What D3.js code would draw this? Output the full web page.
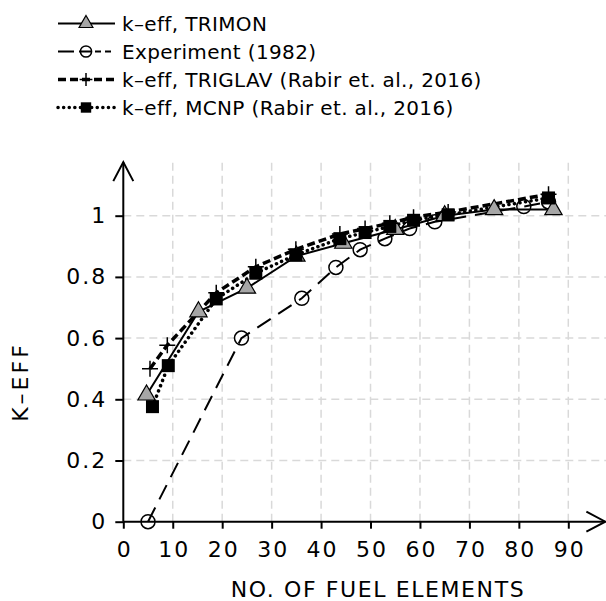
<!DOCTYPE html>
<meta charset="utf-8">
<body style="margin:0">
<div id="chart"></div>
<style>
body { background: #fff; }
text { font-family: 'DejaVu Sans', sans-serif; fill: #000; }
.grid line { stroke: #d9d9d9; stroke-width: 1.5px; stroke-dasharray: 8,5; }
</style>
<script src="https://d3js.org/d3.v7.min.js"></script>
<script>
const width = 606, height = 601;

// data
const trimonX = [4.7, 15.2, 25, 35, 44.5, 55, 65, 75, 87];
const trimonY = [0.414, 0.686, 0.763, 0.868, 0.91, 0.955, 1.0, 1.02, 1.02];
const exprX = [5, 23.9, 36.1, 43, 47.9, 52.9, 57.9, 63, 81, 86];
const exprY = [0, 0.6, 0.73, 0.831, 0.889, 0.925, 0.958, 0.98, 1.03, 1.045];
const triglavX = [5.4, 8.9, 18.8, 26.8, 34.9, 43.8, 48.9, 53.9, 58.7, 65.7, 86];
const triglavY = [0.5, 0.577, 0.748, 0.833, 0.89, 0.94, 0.958, 0.975, 0.995, 1.012, 1.07];
const mcnpX = [5.9, 9.1, 18.8, 26.8, 34.9, 43.8, 48.9, 53.9, 58.7, 65.7, 86];
const mcnpY = [0.376, 0.51, 0.728, 0.812, 0.872, 0.925, 0.945, 0.965, 0.985, 1.003, 1.058];

const xTicks = [0, 10, 20, 30, 40, 50, 60, 70, 80, 90];
const yTicks = [0, 0.2, 0.4, 0.6, 0.8, 1];
const legendLabels = ["k\u2013eff, TRIMON", "Experiment (1982)",
	"k\u2013eff, TRIGLAV (Rabir et. al., 2016)", "k\u2013eff, MCNP (Rabir et. al., 2016)"];

const x = d3.scaleLinear().domain([0, 90]).range([123.3, 568.3]);
const y = d3.scaleLinear().domain([0, 1]).range([521.7, 215.7]);
const yTop = 1.175, xEnd = 97.5;

const svg = d3.select('#chart').append("svg")
	.attr("width", width)
	.attr("height", height);

// grid
const grid = svg.append("g").attr("class", "grid");
grid.selectAll(".gx").data(xTicks.slice(1)).enter().append("line")
	.attr("x1", d => x(d)).attr("x2", d => x(d))
	.attr("y1", y(0)).attr("y2", y(yTop));
grid.selectAll(".gy").data(yTicks.slice(1)).enter().append("line")
	.attr("x1", x(0)).attr("x2", width)
	.attr("y1", d => y(d)).attr("y2", d => y(d));

// axes
const xAxis = svg.append("g")
	.attr("transform", "translate(0," + y(0) + ")")
	.call(d3.axisBottom(x).tickValues(xTicks).tickSize(7).tickPadding(12).tickFormat(d3.format("d")));
const yAxis = svg.append("g")
	.attr("transform", "translate(" + x(0) + ",0)")
	.call(d3.axisLeft(y).tickValues(yTicks).tickSize(8).tickPadding(10).tickFormat(d => d === 0 ? "0" : d === 1 ? "1" : d3.format(".1f")(d)));
[xAxis, yAxis].forEach(a => {
	a.select(".domain").remove();
	a.selectAll("line").attr("stroke", "#000").attr("stroke-width", 2);
	a.selectAll("text").style("font-size", "22px").style("letter-spacing", "2px")
		.style("font-family", "'DejaVu Sans', sans-serif").attr("fill", "#000");
});
xAxis.selectAll("text").attr("dy", "0.75em").attr("dx", "1px");
yAxis.selectAll("text").attr("dx", "2px");

// axis lines with open arrows
const ax = svg.append("g").attr("stroke", "#000").attr("stroke-width", 2).attr("fill", "none");
ax.append("line").attr("x1", x(0)).attr("x2", x(0)).attr("y1", y(0)).attr("y2", y(yTop));
ax.append("path").attr("d", "M" + (x(0) - 10) + "," + (y(yTop) + 19) + "L" + x(0) + "," + y(yTop) + "L" + (x(0) + 10) + "," + (y(yTop) + 19));
ax.append("line").attr("x1", x(0)).attr("x2", x(xEnd)).attr("y1", y(0)).attr("y2", y(0));
ax.append("path").attr("d", "M" + (x(xEnd) - 19) + "," + (y(0) - 10) + "L" + x(xEnd) + "," + y(0) + "L" + (x(xEnd) - 19) + "," + (y(0) + 10));

// axis titles
svg.append("text").attr("x", 378).attr("y", 597).attr("text-anchor", "middle")
	.style("font-size", "22px").style("letter-spacing", "1.6px").text("NO. OF FUEL ELEMENTS");
svg.append("text").attr("transform", "translate(28,382) rotate(-90)").attr("text-anchor", "middle")
	.style("font-size", "22px").style("letter-spacing", "3px").text("K\u2013EFF");

const line = d3.line().x(d => x(d[0])).y(d => y(d[1]));
const zip = (a, b) => a.map((v, i) => [v, b[i]]);

const series = [
	{ pts: zip(exprX, exprY), dash: "16,9", w: 2, marker: "circle" },
	{ pts: zip(trimonX, trimonY), dash: null, w: 2, marker: "triangle" },
	{ pts: zip(triglavX, triglavY), dash: "8,4", w: 3.5, marker: "plus" },
	{ pts: zip(mcnpX, mcnpY), dash: "0.1,5.5", w: 3.5, marker: "square", cap: "round" }
];

function drawMarker(g, type, cx, cy, k) {
	k = k || 1;
	if (type === "circle") {
		g.append("circle").attr("cx", cx).attr("cy", cy).attr("r", 7 * k)
			.attr("fill", "none").attr("stroke", "#000").attr("stroke-width", 1.5);
	} else if (type === "triangle") {
		g.append("path").attr("d", d3.symbol(d3.symbolTriangle, 130 * k * k)())
			.attr("transform", "translate(" + cx + "," + cy + ")")
			.attr("fill", "#a6a6a6").attr("stroke", "#000").attr("stroke-width", 1.2);
	} else if (type === "plus") {
		const r = 8 * k;
		g.append("path").attr("d", "M" + (cx - r) + "," + cy + "H" + (cx + r) + "M" + cx + "," + (cy - r) + "V" + (cy + r))
			.attr("stroke", "#000").attr("stroke-width", 1.5);
	} else {
		const r = 6.5 * k;
		g.append("rect").attr("x", cx - r).attr("y", cy - r).attr("width", 2 * r).attr("height", 2 * r)
			.attr("fill", "#000");
	}
}

series.forEach(s => {
	svg.append("path").datum(s.pts).attr("d", line)
		.attr("fill", "none").attr("stroke", "#000").attr("stroke-width", s.w)
		.attr("stroke-dasharray", s.dash).attr("stroke-linecap", s.cap || "butt");
});
series.forEach(s => {
	const g = svg.append("g");
	s.pts.forEach(p => drawMarker(g, s.marker, x(p[0]), y(p[1])));
});

// legend
const legendOrder = [1, 0, 2, 3];
const lg = svg.append("g");
legendOrder.forEach((si, i) => {
	const s = series[si];
	const ly = 23.5 + i * 28;
	lg.append("line").attr("x1", 58).attr("x2", 115).attr("y1", ly).attr("y2", ly)
		.attr("stroke", "#000").attr("stroke-width", s.w)
		.attr("stroke-dasharray", si === 0 ? "16,5,12,4,6,4,6,20" : s.dash).attr("stroke-linecap", s.cap || "butt");
	drawMarker(lg, s.marker, 86, ly, 0.8);
	lg.append("text").attr("x", 122).attr("y", ly).attr("dy", "0.36em")
		.style("font-size", "20px").style("letter-spacing", "0.35px").text(legendLabels[i]);
});
</script>
</body>
